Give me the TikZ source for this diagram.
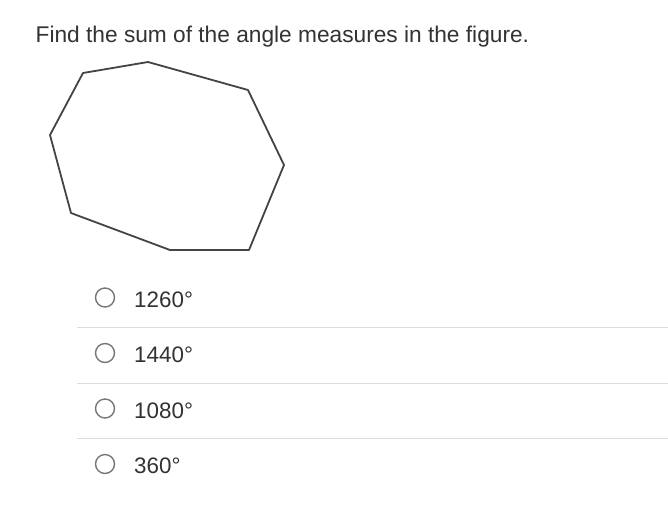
\documentclass[tikz,border=0pt]{standalone}
\usepackage{fontspec}
\setmainfont{Liberation Sans}
\definecolor{txt}{HTML}{333333}
\definecolor{radio}{HTML}{777777}
\definecolor{sep}{HTML}{DDDDDD}
\definecolor{poly}{HTML}{444444}
\begin{document}
\begin{tikzpicture}[x=1pt,y=-1pt,
  lbl/.style={anchor=base west,inner sep=0pt,text=txt,font=\fontsize{22.4}{27}\selectfont},
  radiobtn/.style={circle,draw=radio,line width=1.4pt,minimum size=19pt,inner sep=0pt},
  sepline/.style={draw=sep,line width=1pt}]
\useasboundingbox[fill=white] (0,0) rectangle (668,512);
\node[lbl,font=\fontsize{22.7}{27}\selectfont] (q) at (35.5,42) {Find the sum of the angle measures in the figure.};
\draw[poly,line width=1.8pt,line join=round]
  (83,73) -- (148,62) -- (248,90) -- (284,165) -- (249,250) -- (170,250) -- (71,213) -- (50,135) -- cycle;
\node[radiobtn] (r1) at (105,297.5) {};
\node[radiobtn] (r2) at (105,353) {};
\node[radiobtn] (r3) at (105,408.5) {};
\node[radiobtn] (r4) at (105,464) {};
\node[lbl] (a1) at (134,307.3) {1260°};
\node[lbl] (a2) at (134,362.8) {1440°};
\node[lbl] (a3) at (134,418.3) {1080°};
\node[lbl] (a4) at (134,473.8) {360°};
\coordinate (s1a) at (77,327.5); \coordinate (s1b) at (668,327.5);
\coordinate (s2a) at (77,383); \coordinate (s2b) at (668,383);
\coordinate (s3a) at (77,438.5); \coordinate (s3b) at (668,438.5);
\draw[sepline] (s1a) -- (s1b);
\draw[sepline] (s2a) -- (s2b);
\draw[sepline] (s3a) -- (s3b);
\end{tikzpicture}
\end{document}
